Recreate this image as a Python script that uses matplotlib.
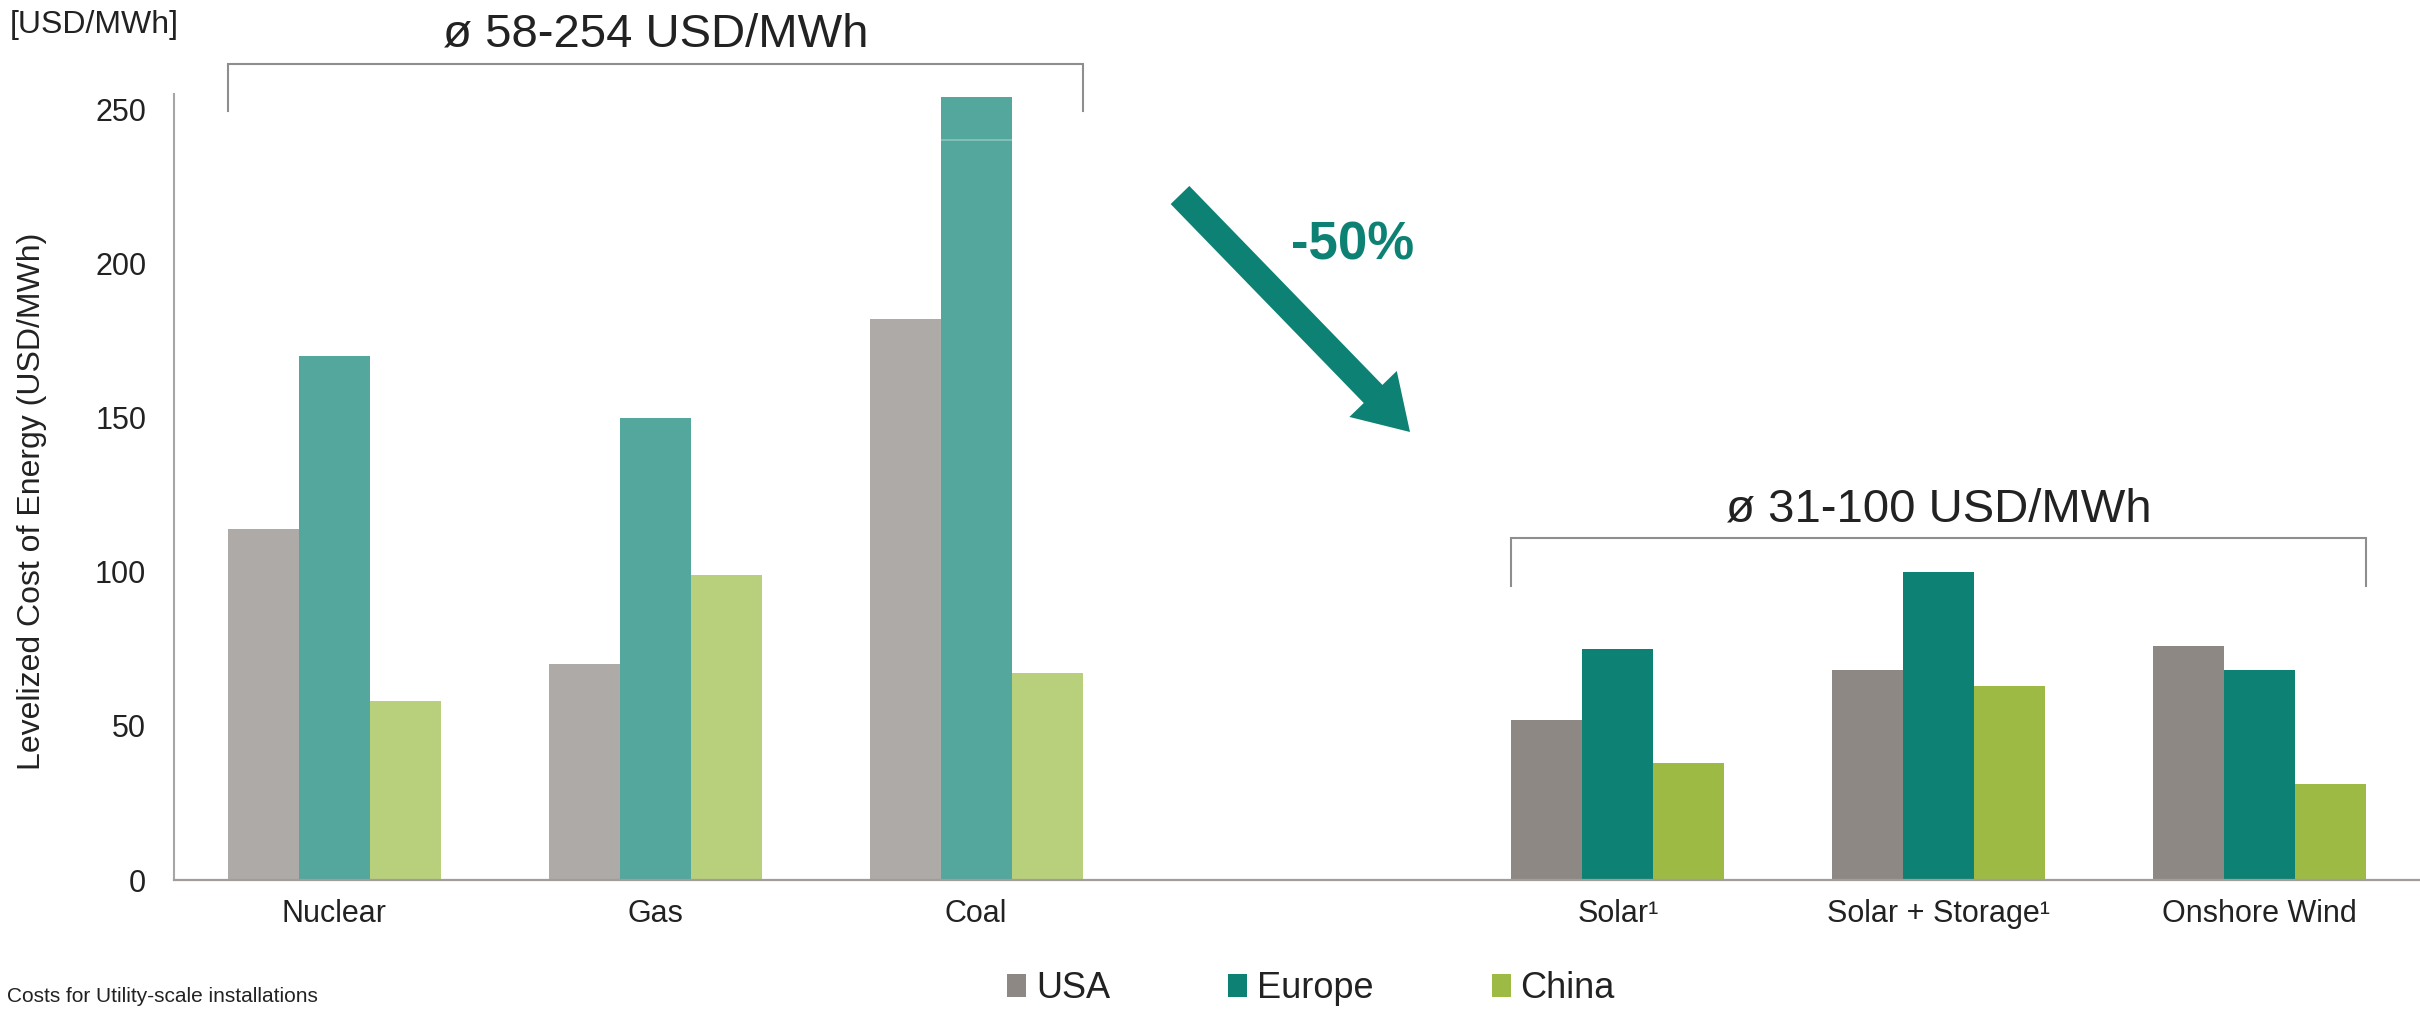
import numpy as np
import matplotlib
matplotlib.use("Agg")
import matplotlib.pyplot as plt
from matplotlib.patches import Patch, FancyArrow

plt.rcParams["font.family"] = ["Liberation Sans", "DejaVu Sans"]

# Levelized cost of energy by technology and region
categories = ["Nuclear", "Gas", "Coal", "Solar\u00b9", "Solar + Storage\u00b9", "Onshore Wind"]
regions = ["USA", "Europe", "China"]
usa = [114, 70, 182, 52, 68, 76]
europe = [170, 150, 254, 75, 100, 68]
china = [58, 99, 67, 38, 63, 31]
is_renewable = [False, False, False, True, True, True]

fossil_range = "\u00f8 58-254 USD/MWh"
renewable_range = "\u00f8 31-100 USD/MWh"
change_label = "-50%"
y_ticks = [0, 50, 100, 150, 200, 250]

# muted shades for conventional sources, full shades for renewables
light_colors = ["#AEAAA8", "#54A79D", "#B8CF7C"]
dark_colors = ["#8D8884", "#0D8274", "#9DBA44"]
text_color = "#222222"
bracket_color = "#8E8E8E"

W, H, DPI = 2420, 1009, 100
fig = plt.figure(figsize=(W / DPI, H / DPI), dpi=DPI)
ax = fig.add_axes([174 / W, 1 - 880 / H, (W - 174) / W, (880 - 94) / H])

# leave an empty slot between conventional and renewable groups
x = np.arange(len(categories)) + np.array(is_renewable, dtype=int)
bar_w = 0.221
series = [usa, europe, china]
for i, vals in enumerate(series):
    cols = [dark_colors[i] if r else light_colors[i] for r in is_renewable]
    ax.bar(x + (i - 1) * bar_w, vals, width=bar_w, color=cols, linewidth=0)

# thin break mark inside the tallest bar
coal_idx = categories.index("Coal")
xe = x[coal_idx]
ax.hlines(240, xe - bar_w / 2, xe + bar_w / 2, color="#8CC4BD", lw=1.2, zorder=3)

ax.set_xlim(-0.5, 6.5)
ax.set_ylim(0, 255)
ax.set_yticks(y_ticks)
ax.set_xticks(x)
ax.set_xticklabels(categories)
ax.tick_params(axis="y", length=0, pad=20, labelsize=22, labelcolor=text_color)
ax.tick_params(axis="x", length=0, pad=13.5, labelsize=22, labelcolor=text_color)
for s in ("top", "right"):
    ax.spines[s].set_visible(False)
ax.spines["left"].set_color("#A6A6A6")
ax.spines["left"].set_linewidth(1.5)
ax.spines["bottom"].set_color("#A19D9B")
ax.spines["bottom"].set_linewidth(1.6)


def bracket(group_x, y_top, y_bottom, label, label_y):
    left = min(group_x) - 1.5 * bar_w
    right = max(group_x) + 1.5 * bar_w
    ax.plot([left, left, right, right], [y_bottom, y_top, y_top, y_bottom],
            color=bracket_color, lw=1.5, clip_on=False, solid_joinstyle="miter")
    ax.text((left + right) / 2, label_y, label, ha="center", va="baseline",
            fontsize=34, color=text_color, clip_on=False)


fossil_x = [xx for xx, r in zip(x, is_renewable) if not r]
renew_x = [xx for xx, r in zip(x, is_renewable) if r]
bracket(fossil_x, 264.8, 249.4, fossil_range, 270.5)
bracket(renew_x, 110.9, 95.3, renewable_range, 116.3)

# downward arrow between the two groups
arrow = FancyArrow(11.80, 8.14, 14.10 - 11.80, 5.77 - 8.14, width=0.26,
                   head_width=0.66, head_length=0.53, length_includes_head=True,
                   color="#0D8274", linewidth=0, transform=fig.dpi_scale_trans)
fig.patches.append(arrow)
fig.text(1353 / W, 1 - 259 / H, change_label, ha="center", va="baseline",
         fontsize=38, fontweight="bold", color="#0D8274")

fig.text(10 / W, 1 - 33 / H, "[USD/MWh]", ha="left", va="baseline",
         fontsize=23, color=text_color)
fig.text(32 / W, 1 - 501 / H, "Levelized Cost of Energy (USD/MWh)", rotation=90,
         ha="center", va="center", fontsize=23, color=text_color)

handles = [Patch(facecolor=c, edgecolor="none", label=r) for c, r in zip(dark_colors, regions)]
fig.legend(handles=handles, loc="center", bbox_to_anchor=(1311 / W, 1 - 989 / H),
           ncol=3, frameon=False, fontsize=26, handlelength=0.53, handleheight=0.6,
           handletextpad=0.27, columnspacing=3.27, borderpad=0, borderaxespad=0,
           labelcolor=text_color)

fig.text(7 / W, 1 - 1002 / H, "Costs for Utility-scale installations", ha="left",
         va="baseline", fontsize=15, color=text_color)

fig.savefig("out.png", dpi=DPI, facecolor="white")
